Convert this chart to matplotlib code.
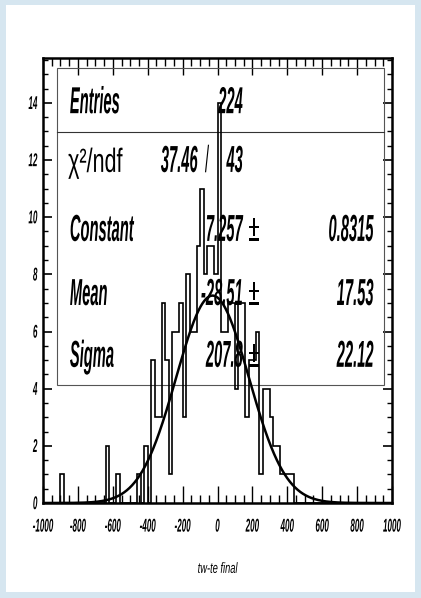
import matplotlib
matplotlib.use("Agg")
import matplotlib.pyplot as plt
import numpy as np
from matplotlib.patches import Rectangle
from matplotlib.patheffects import AbstractPathEffect
from matplotlib.ticker import MultipleLocator
from matplotlib.transforms import Affine2D

plt.rcParams["axes.unicode_minus"] = False

# histogram: 100 bins of width 20 from -1000 to 1000, only the filled ones listed
bin_low = [-900, -640, -580, -460, -420, -380, -360, -340, -320, -300, -280,
           -260, -240, -220, -200, -180, -160, -140, -120, -100, -80, -60,
           -40, -20, 0, 20, 40, 60, 80, 100, 120, 140, 160, 180, 200, 220,
           240, 260, 280, 300, 320, 340, 360, 380, 400, 420]
bin_count = [1, 2, 1, 1, 2, 5, 3, 3, 7, 5, 1,
             6, 6, 7, 3, 8, 6, 6, 9, 11, 8, 9,
             9, 8, 14, 6, 6, 7, 7, 4, 7, 7, 3, 5, 5, 6,
             1, 4, 4, 3, 2, 2, 1, 1, 1, 1]

# gaussian fit results
fit_const = 7.257
fit_mean = -28.51
fit_sigma = 207.8

stat_labels = ["Entries", "Constant", "Mean", "Sigma"]
stat_values = ["224", "7.257", "-28.51", "207.8"]
stat_errors = ["", "0.8315", "17.53", "22.12"]
chi2_value = "37.46"
ndf_value = "43"

edges = np.arange(-1000, 1001, 20)
counts = np.zeros(len(edges) - 1)
for lo, c in zip(bin_low, bin_count):
    counts[int(round((lo + 1000) / 20))] = c


class VStretch(AbstractPathEffect):
    """stretch glyphs vertically (the old ROOT canvas fonts are tall and narrow)"""

    def __init__(self, sy, anchor=0.0):
        super().__init__()
        self.sy = sy
        self.anchor = anchor

    def draw_path(self, renderer, gc, tpath, affine, rgbFace=None):
        y0 = affine.get_matrix()[1, 2] + self.anchor
        extra = Affine2D().translate(0, -y0).scale(1, self.sy).translate(0, y0)
        renderer.draw_path(gc, tpath, affine + extra, rgbFace)


font = "Liberation Sans"

fig = plt.figure(figsize=(4.21, 5.98), dpi=100, facecolor="#d6e6f0")
fig.patches.append(Rectangle((6 / 421, 6 / 598), 409 / 421, 587 / 598,
                             transform=fig.transFigure, facecolor="white",
                             edgecolor="none", zorder=-5))

ax = fig.add_axes([43 / 421, 1 - 503 / 598, 349 / 421, 445 / 598])
ax.set_zorder(2)
ax.set_facecolor("none")

ax.stairs(counts, edges, color="black", linewidth=1.2, zorder=3)

xs = np.linspace(-1000, 1000, 800)
ax.plot(xs, fit_const * np.exp(-0.5 * ((xs - fit_mean) / fit_sigma) ** 2),
        color="black", linewidth=1.8, zorder=4)

ax.set_xlim(-1000, 1000)
ax.set_ylim(0, 15.57)

ax.xaxis.set_major_locator(MultipleLocator(200))
ax.xaxis.set_minor_locator(MultipleLocator(50))
ax.yaxis.set_major_locator(MultipleLocator(2))
ax.yaxis.set_minor_locator(MultipleLocator(0.5))
ax.tick_params(axis="x", which="major", direction="in", length=12, width=1,
               top=True, pad=17)
ax.tick_params(axis="x", which="minor", direction="in", length=6, width=1,
               top=True)
ax.tick_params(axis="y", which="major", direction="in", length=6.5, width=1.2,
               right=True, pad=4)
ax.tick_params(axis="y", which="minor", direction="in", length=3.5, width=1,
               right=True)
for spine in ax.spines.values():
    spine.set_linewidth(1.8)

for lab in ax.get_xticklabels():
    lab.set(family=font, style="italic", weight="bold", fontsize=5.8,
            path_effects=[VStretch(2.3)])
for lab in ax.get_yticklabels():
    lab.set(family=font, style="italic", weight="bold", fontsize=5.8,
            path_effects=[VStretch(2.3, anchor=2.8)])

ax.set_xlabel("tw-te final", family=font, style="italic", fontsize=6.7,
              va="baseline", path_effects=[VStretch(1.6)])
ax.xaxis.set_label_coords(0.5, -0.157)

# stats box
ax.add_patch(Rectangle((0.040, 0.265), 0.937, 0.7125, transform=ax.transAxes,
                       facecolor="none", edgecolor="#555555", linewidth=0.8,
                       zorder=2))
ax.plot([0.040, 0.977], [0.834, 0.834], transform=ax.transAxes,
        color="#333333", linewidth=0.8, zorder=2)

stretch = [VStretch(2.55)]
bold = dict(family=font, style="italic", weight="bold", fontsize=10.6,
            transform=ax.transAxes, va="baseline", zorder=5,
            path_effects=stretch)
plain = dict(family=font, fontsize=10.6, transform=ax.transAxes,
             va="baseline", zorder=5, path_effects=stretch)
rows_y = [0.876, 0.589, 0.445, 0.306]
for lbl, val, err, yy in zip(stat_labels, stat_values, stat_errors, rows_y):
    ax.text(0.077, yy, lbl, ha="left", **bold)
    ax.text(0.573, yy, val, ha="right", **bold)
    if err:
        ax.text(0.605, yy, "\u00b1", ha="center", va="baseline", family=font,
                fontsize=14, transform=ax.transAxes, zorder=5,
                path_effects=[VStretch(1.95)])
        ax.text(0.948, yy, err, ha="right", **bold)

ax.text(0.072, 0.744, "\u03c7\u00b2/ndf", ha="left", va="baseline",
        family=font, fontsize=15.5, transform=ax.transAxes, zorder=5,
        path_effects=[VStretch(1.56)])
ax.text(0.444, 0.744, chi2_value, ha="right", **bold)
ax.text(0.470, 0.744, "/", ha="center", **plain)
ax.text(0.573, 0.744, ndf_value, ha="right", **bold)

fig.savefig("out.png", dpi=100, facecolor=fig.get_facecolor())
